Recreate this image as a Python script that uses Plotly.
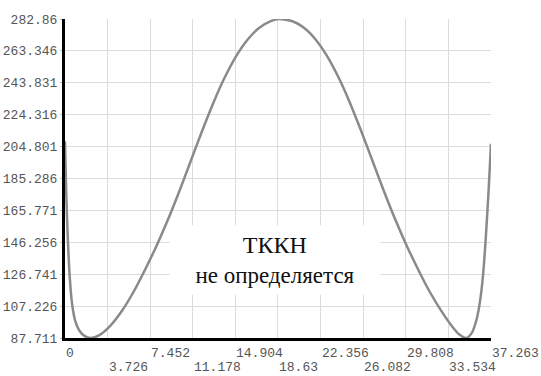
import plotly.graph_objects as go

# Data
x_vals = [0, 0.08, 0.17, 0.28, 0.42, 0.62, 0.9, 1.25, 1.7, 2.25, 3.0,
          4.0, 5.0, 6.0, 7.0, 8.0, 9.0, 10.0, 11.0, 12.0, 13.0, 14.0, 15.0, 16.0,
          17.0, 18.0, 18.7,
          19.9, 20.9, 21.9, 22.9, 23.9, 24.9, 25.9, 26.9, 27.9, 28.9, 29.9, 30.9,
          31.9, 32.9, 33.9, 34.5, 35.1, 35.6, 36.0, 36.3, 36.55, 36.75, 36.92,
          37.07, 37.263]
y_vals = [208.0, 184.0, 163.0, 143.0, 124.5, 108.5, 98.0, 92.3, 89.0, 87.711, 89.5,
          95.5, 104.5, 116.0, 129.5, 144.0, 160.0, 177.5, 196.0, 214.5, 232.0, 247.5,
          260.5, 270.5, 277.5, 281.5, 282.86,
          281.5, 277.5, 270.5, 260.5, 247.5, 232.0, 214.5, 196.0, 177.5, 160.0, 144.0,
          129.5, 116.0, 104.5, 94.5, 89.8, 87.711, 91.0, 99.0, 110.0, 125.0, 143.0,
          162.0, 180.0, 206.5]

x_ticks = [0, 3.726, 7.452, 11.178, 14.904, 18.63, 22.356, 26.082, 29.808, 33.534, 37.263]
x_tick_labels = ["0", "3.726", "7.452", "11.178", "14.904", "18.63", "22.356",
                 "26.082", "29.808", "33.534", "37.263"]
y_ticks = [87.711, 107.226, 126.741, 146.256, 165.771, 185.286, 204.801,
           224.316, 243.831, 263.346, 282.86]
y_tick_labels = ["87.711", "107.226", "126.741", "146.256", "165.771", "185.286",
                 "204.801", "224.316", "243.831", "263.346", "282.86"]

title_line1 = "ТККН"
title_line2 = "не определяется"

mono = "Liberation Mono, Courier New, monospace"
serif = "Liberation Serif, Times New Roman, serif"

fig = go.Figure()
fig.add_trace(go.Scatter(x=x_vals, y=y_vals, mode="lines",
                         line=dict(color="#8a8a8a", width=2.5, shape="spline", smoothing=0.7),
                         hoverinfo="skip", showlegend=False))

annotations = []
for i, (v, t) in enumerate(zip(x_ticks, x_tick_labels)):
    annotations.append(dict(x=v, y=0, xref="x", yref="paper", text=t,
                            showarrow=False, xanchor="left", yanchor="top",
                            xshift=-1, yshift=-6 if i % 2 == 0 else -20,
                            font=dict(family=mono, size=13, color="#555555")))

# white text box
annotations.append(dict(x=0.493, y=0.246, xref="paper", yref="paper",
                        text="<span style='font-size:24px'>" + title_line1 + "</span><br>"
                             + "<span style='font-size:23px'>" + title_line2 + "</span>",
                        showarrow=False, xanchor="center", yanchor="middle",
                        bgcolor="white", width=208, height=66,
                        font=dict(family=serif, size=23, color="#111111")))

fig.update_layout(
    width=541, height=376, autosize=False,
    margin=dict(l=64.5, r=49.5, t=19, b=37.5, pad=0),
    plot_bgcolor="white", paper_bgcolor="white",
    showlegend=False,
    annotations=annotations,
    xaxis=dict(range=[0, 37.263], tickvals=x_ticks, showticklabels=False,
               showgrid=True, gridcolor="#dcdcdc", gridwidth=1, zeroline=False,
               showline=True, linecolor="black", linewidth=3, ticks="",
               automargin=False),
    yaxis=dict(range=[87.711, 282.86], tickvals=y_ticks, ticktext=y_tick_labels,
               showgrid=True, gridcolor="#dcdcdc", gridwidth=1, zeroline=False,
               showline=True, linecolor="black", linewidth=3,
               ticks="outside", ticklen=2, tickcolor="#bbbbbb",
               automargin=False,
               tickfont=dict(family=mono, size=13, color="#555555")),
)

fig.write_html("out.html")
